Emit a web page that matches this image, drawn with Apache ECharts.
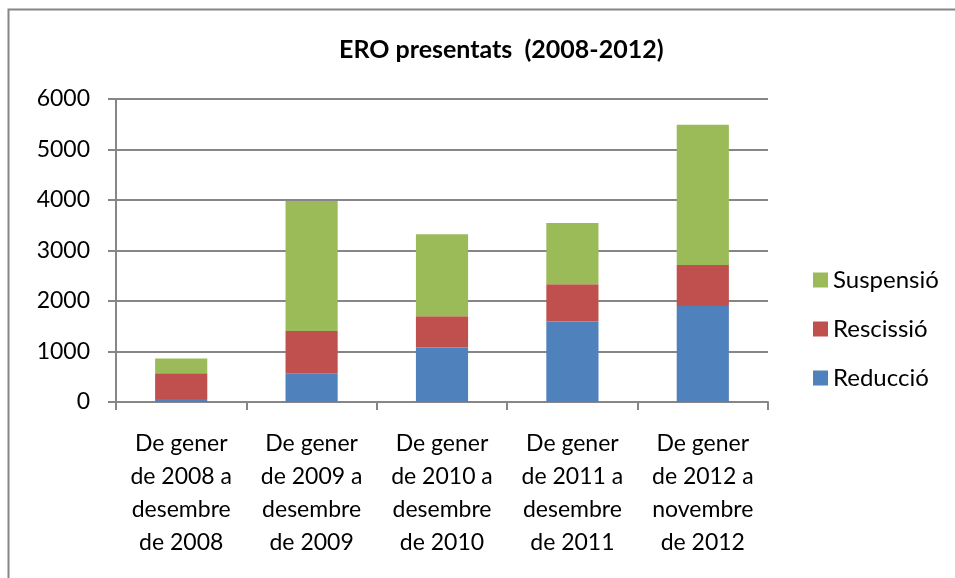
<!DOCTYPE html>
<html>
<head>
<meta charset="utf-8">
<script src="https://cdn.jsdelivr.net/npm/echarts@6/dist/echarts.min.js"></script>
<style>html,body{margin:0;padding:0;background:#fff}#c{width:955px;height:578px}</style>
</head>
<body>
<div id="c"></div>
<script>
const categories = [
  "De gener\nde 2008 a\ndesembre\nde 2008",
  "De gener\nde 2009 a\ndesembre\nde 2009",
  "De gener\nde 2010 a\ndesembre\nde 2010",
  "De gener\nde 2011 a\ndesembre\nde 2011",
  "De gener\nde 2012 a\nnovembre\nde 2012"
];
const reduccio = [60, 570, 1080, 1595, 1900];
const rescissio = [510, 835, 620, 735, 813];
const suspensio = [290, 2575, 1620, 1215, 2777];
const legendOrder = ["Suspensió", "Rescissió", "Reducció"];
const yTicks = { min: 0, max: 6000, interval: 1000 };

const FONT = "Lato";
const chart = echarts.init(document.getElementById('c'), null, { renderer: 'canvas' });
const barCommon = { type: 'bar', stack: 'total', barWidth: '40%' };
chart.setOption({
  animation: false,
  backgroundColor: '#fff',
  textStyle: { fontFamily: FONT, color: '#000' },
  graphic: [{
    type: 'rect', silent: true,
    shape: { x: 8.5, y: 9.5, width: 1000, height: 700 },
    style: { fill: 'none', stroke: '#868686', lineWidth: 2 }
  }],
  title: {
    text: 'ERO presentats  (2008-2012)',
    left: 334, top: 32,
    textStyle: { fontFamily: FONT, fontWeight: 'bold', fontSize: 25, color: '#000' }
  },
  legend: {
    orient: 'vertical', left: 808, top: 263,
    data: legendOrder,
    itemWidth: 15, itemHeight: 15, itemGap: 25,
    icon: 'rect',
    textStyle: { fontFamily: FONT, fontSize: 24, color: '#000' }
  },
  grid: { left: 116, right: 187, top: 99, bottom: 176, containLabel: false },
  xAxis: {
    type: 'category', data: categories,
    axisLine: { lineStyle: { color: '#868686', width: 2 } },
    axisTick: { show: true, length: 8, lineStyle: { color: '#868686', width: 2 } },
    axisLabel: { fontFamily: FONT, fontSize: 23, color: '#000', lineHeight: 33, margin: 25, interval: 0, align: 'center' },
    splitLine: { show: false }
  },
  yAxis: {
    type: 'value', min: yTicks.min, max: yTicks.max, interval: yTicks.interval,
    axisLine: { show: true, lineStyle: { color: '#868686', width: 2 } },
    axisTick: { show: true, length: 8, lineStyle: { color: '#868686', width: 2 } },
    axisLabel: { fontFamily: FONT, fontSize: 23, color: '#000', margin: 26, formatter: v => String(v) },
    splitLine: { show: true, lineStyle: { color: '#868686', width: 2 } }
  },
  series: [
    Object.assign({ name: 'Reducció', data: reduccio, itemStyle: { color: '#4F81BD' } }, barCommon),
    Object.assign({ name: 'Rescissió', data: rescissio, itemStyle: { color: '#C0504D' } }, barCommon),
    Object.assign({ name: 'Suspensió', data: suspensio, itemStyle: { color: '#9BBB59' } }, barCommon)
  ]
});
</script>
</body>
</html>
